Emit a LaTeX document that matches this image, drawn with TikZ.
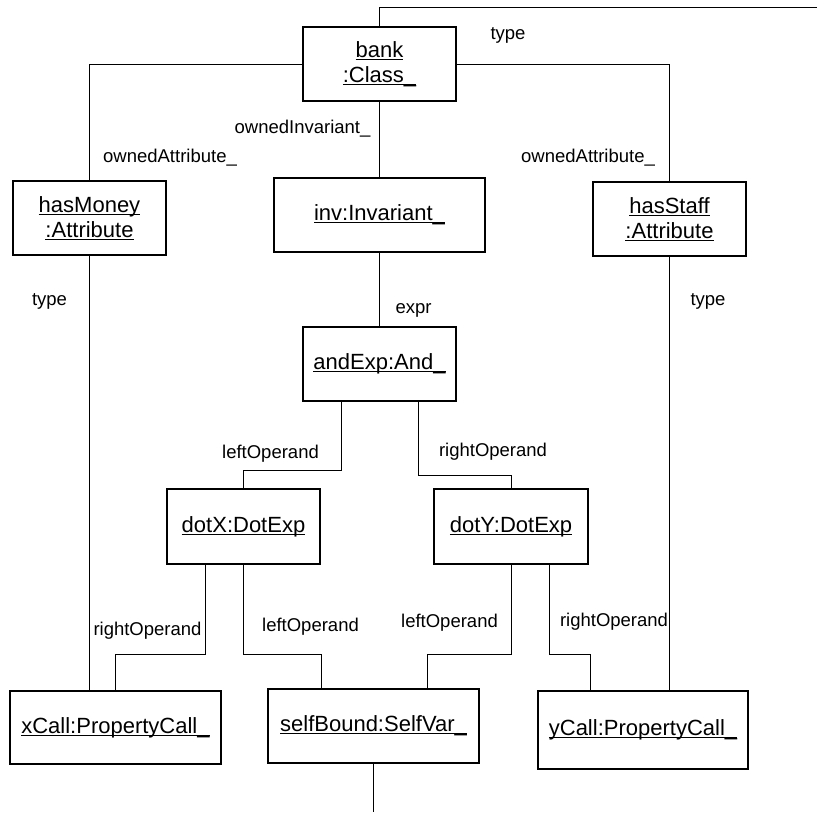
\documentclass[tikz,border=0pt]{standalone}
\usepackage{fontspec}
\setmainfont{Liberation Sans}
\usetikzlibrary{calc}
\newsavebox\ulbox
\newcommand{\ulname}[1]{\sbox\ulbox{#1}\rlap{\rule[-1.3pt]{\wd\ulbox}{0.5pt}}\usebox\ulbox}
\tikzset{
  obj/.style={draw, line width=0.8pt, minimum width=#1, minimum height=37pt,
    inner sep=0pt, align=center, font=\fontsize{11}{12.5}\selectfont},
  role/.style={inner sep=0pt, font=\fontsize{9.25}{11}\selectfont}
}
\begin{document}
\begin{tikzpicture}[x=0.5pt, y=-0.5pt, line width=0.45pt]
      \useasboundingbox (0,0) rectangle (817,812);
      \node [obj=76.5pt] (bank) at (379.5,64) {\ulname{bank}\\\ulname{:Class\_}};
      \node [obj=76.5pt] (hasMoney) at (89.5,218) {\ulname{hasMoney}\\\ulname{:Attribute}};
      \node [obj=105.5pt] (inv) at (379.5,215) {\ulname{inv:Invariant\_}};
      \node [obj=76.5pt] (hasStaff) at (669.5,219) {\ulname{hasStaff}\\\ulname{:Attribute}};
      \node [obj=76.5pt] (andExp) at (379.5,364) {\ulname{andExp:And\_}};
      \node [obj=76.5pt, minimum height=37.5pt] (dotX) at (243.5,526.5) {\ulname{dotX:DotExp}};
      \node [obj=77pt, minimum height=37.5pt] (dotY) at (511,526.5) {\ulname{dotY:DotExp}};
      \node [obj=105.5pt, minimum height=36.5pt] (xCall) at (115.5,727.5) {\ulname{xCall:PropertyCall\_}};
      \node [obj=105.5pt] (selfBound) at (373.5,726) {\ulname{selfBound:SelfVar\_}};
      \node [obj=105pt, minimum height=39pt] (yCall) at (643,730) {\ulname{yCall:PropertyCall\_}};
      \coordinate (typeEnd) at (817,7);
      \coordinate (selfEnd) at (373.5,812);
      \draw (bank.north) |- (typeEnd);
      \draw (bank.west) -| (hasMoney.north);
      \draw (bank.east) -| (hasStaff.north);
      \draw (bank.south) -- (inv.north);
      \draw (inv.south) -- (andExp.north);
      \draw (hasMoney.south) -- (hasMoney.south |- xCall.north);
      \draw (hasStaff.south) -- (hasStaff.south |- yCall.north);
      \draw ($(andExp.south)+(-38,0)$) -- ++(0,69) -| (dotX.north);
      \draw ($(andExp.south)+(38.5,0)$) -- ++(0,74) -| (dotY.north);
      \draw ($(dotX.south)+(-38.5,0)$) -- ++(0,90) -| (xCall.north);
      \draw (dotX.south) -- ++(0,90) -| ($(selfBound.north)+(-52.5,0)$);
      \draw (dotY.south) -- ++(0,90) -| ($(selfBound.north)+(53.5,0)$);
      \draw ($(dotY.south)+(38,0)$) -- ++(0,90) -| ($(yCall.north)+(-53,0)$);
      \draw (selfBound.south) -- (selfEnd);
      \node [role] (typeBank) at (508,35) {type};
      \node [role] (ownedMoney) at (170,158) {ownedAttribute\_};
      \node [role] (ownedInv) at (302.5,129) {ownedInvariant\_};
      \node [role] (ownedStaff) at (588,158) {ownedAttribute\_};
      \node [role] (typeMoney) at (49.5,301) {type};
      \node [role] (typeStaff) at (708,301) {type};
      \node [role] (exprLabel) at (413.5,310) {expr};
      \node [role] (leftAnd) at (270.5,454) {leftOperand};
      \node [role] (rightAnd) at (493,452) {rightOperand};
      \node [role] (rightX) at (147.5,631) {rightOperand};
      \node [role] (leftX) at (310.5,627) {leftOperand};
      \node [role] (leftY) at (449.5,623) {leftOperand};
      \node [role] (rightY) at (614,622) {rightOperand};
    \end{tikzpicture}
\end{document}
